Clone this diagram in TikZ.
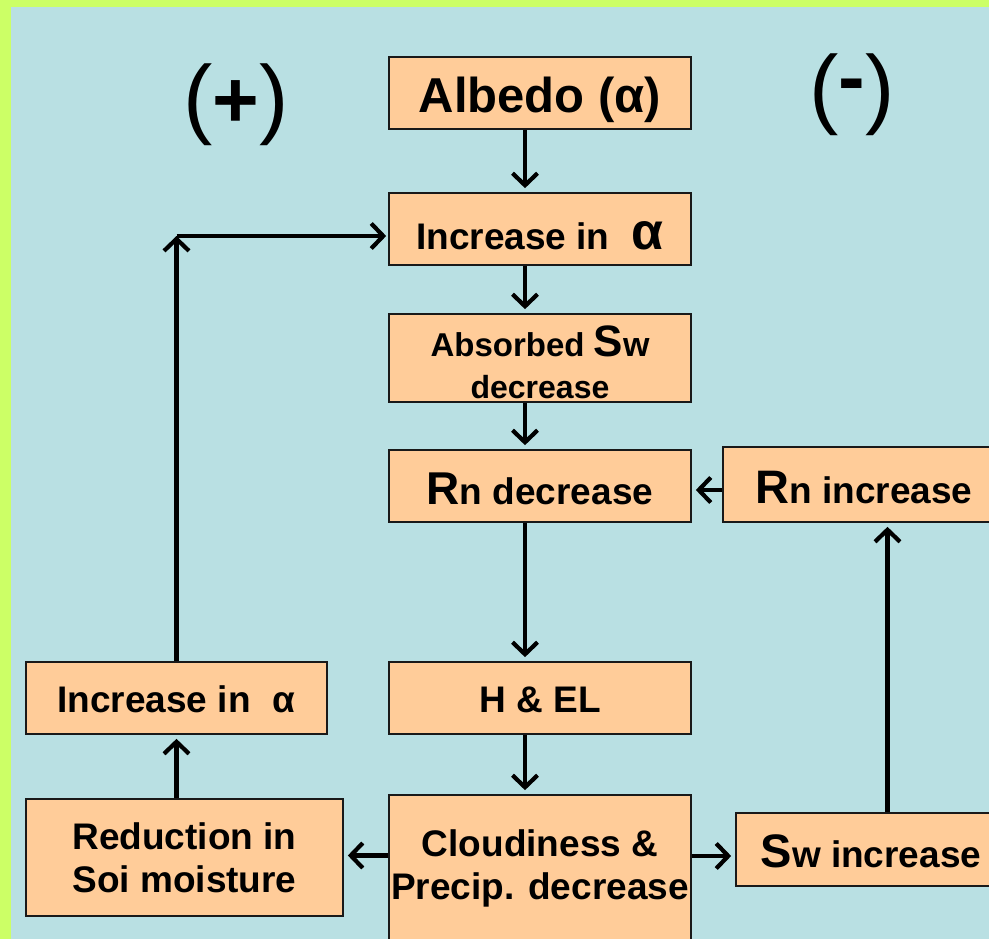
\documentclass[tikz,border=0pt]{standalone}
\usepackage{fontspec}
\setmainfont{Liberation Sans}
\usetikzlibrary{arrows.meta}
\definecolor{bgblue}{HTML}{B9E0E3}
\definecolor{framegreen}{HTML}{CCFF66}
\definecolor{peach}{HTML}{FFCC99}
\tikzset{
  box/.style={draw=black!90, line width=1.7pt, fill=peach, rectangle, inner sep=0pt,
    align=center, font=\bfseries\fontsize{37}{43}\selectfont},
  flowarrow/.style={draw=black, line width=4.2pt, -{Straight Barb[length=12pt,width=25pt]}, shorten >=4pt}
}
\begin{document}
\begin{tikzpicture}[x=1pt,y=-1pt]
\useasboundingbox (0,0) rectangle (989,939);
\clip (0,0) rectangle (989,939);
\fill[framegreen] (0,0) rectangle (989,939);
\fill[bgblue] (11,7) rectangle (989,939);

% signs
\node[anchor=base, inner sep=0pt, font=\fontsize{88}{88}\selectfont] (plus) at (236,128) {({\bfseries\fontsize{80}{80}\selectfont +})};
\node[anchor=base, inner sep=0pt, font=\fontsize{88}{88}\selectfont] (minus) at (852,118) {(\raisebox{13pt}{\bfseries\fontsize{80}{80}\selectfont -})};

% central column
\node[box, minimum width=302pt, minimum height=72pt, text height=45pt, text depth=5pt] (albedo) at (540,93)
  {\fontsize{49}{52}\selectfont Albedo (α)};
\node[box, minimum width=302pt, minimum height=72pt, text height=45pt, text depth=3pt] (inc1) at (540,229)
  {Increase in\hspace{0.6em}{\fontsize{52}{52}\selectfont α}};
\node[box, minimum width=302pt, minimum height=88pt, font=\bfseries\fontsize{33}{42}\selectfont] (abs) at (540,358)
  {\rule{0pt}{39pt}Absorbed {\fontsize{44}{42}\selectfont S}{\fontsize{34}{42}\selectfont w}\\{\fontsize{32}{42}\selectfont decrease}};
\node[box, minimum width=302pt, minimum height=72pt, text height=40pt, text depth=4pt] (rndec) at (540,486)
  {{\fontsize{46}{46}\selectfont R}n decrease};
\node[box, minimum width=302pt, minimum height=72pt, text height=32pt, text depth=4pt] (hel) at (540,698)
  {H \& EL};
\node[box, minimum width=302pt, minimum height=146pt] (cloud) at (540,868)
  {Cloudiness \&\\Precip. decrease};

% right column
\node[box, minimum width=282pt, minimum height=75pt, text height=40pt, text depth=3pt] (rninc) at (864,484.5)
  {{\fontsize{47}{47}\selectfont R}n increase};
\node[box, minimum width=270pt, minimum height=73pt, text height=38pt, text depth=3pt] (sw) at (871,849.5)
  {{\fontsize{47}{47}\selectfont S}w increase};

% left column
\node[box, minimum width=301pt, minimum height=72pt, text height=32pt, text depth=4pt] (inc2) at (176.5,698)
  {Increase in\hspace{0.6em}α};
\node[box, minimum width=317pt, minimum height=117pt] (red) at (184.5,857.5)
  {Reduction in\\Soi moisture};

\coordinate (corner) at (176.5,236);

% connectors
\draw[flowarrow] ([xshift=-15pt]albedo.south) -- ([xshift=-15pt]inc1.north);
\draw[flowarrow] ([xshift=-15pt]inc1.south) -- ([xshift=-15pt]abs.north);
\draw[flowarrow] ([xshift=-15pt]abs.south) -- ([xshift=-15pt]rndec.north);
\draw[flowarrow] ([xshift=-15pt]rndec.south) -- ([xshift=-15pt]hel.north);
\draw[flowarrow] ([xshift=-15pt]hel.south) -- ([xshift=-15pt]cloud.north);
\draw[flowarrow] ([yshift=-5.5pt]rninc.west) -- ([yshift=-5.5pt]rninc.west -| rndec.east);
\draw[flowarrow] ([yshift=-6.5pt]sw.west -| cloud.east) -- ([yshift=-6.5pt]sw.west);
\draw[flowarrow] ([xshift=16.5pt]sw.north) -- ([xshift=16.5pt]sw.north |- rninc.south);
\draw[flowarrow] ([yshift=2pt]red.east -| cloud.west) -- ([yshift=2pt]red.east);
\draw[flowarrow] ([xshift=-8pt]red.north) -- ([xshift=-8pt]red.north |- inc2.south);
\draw[flowarrow, shorten >=0pt] (inc2.north) -- (corner);
\draw[flowarrow, shorten >=2pt] (corner) -- (corner -| inc1.west);
\end{tikzpicture}
\end{document}
